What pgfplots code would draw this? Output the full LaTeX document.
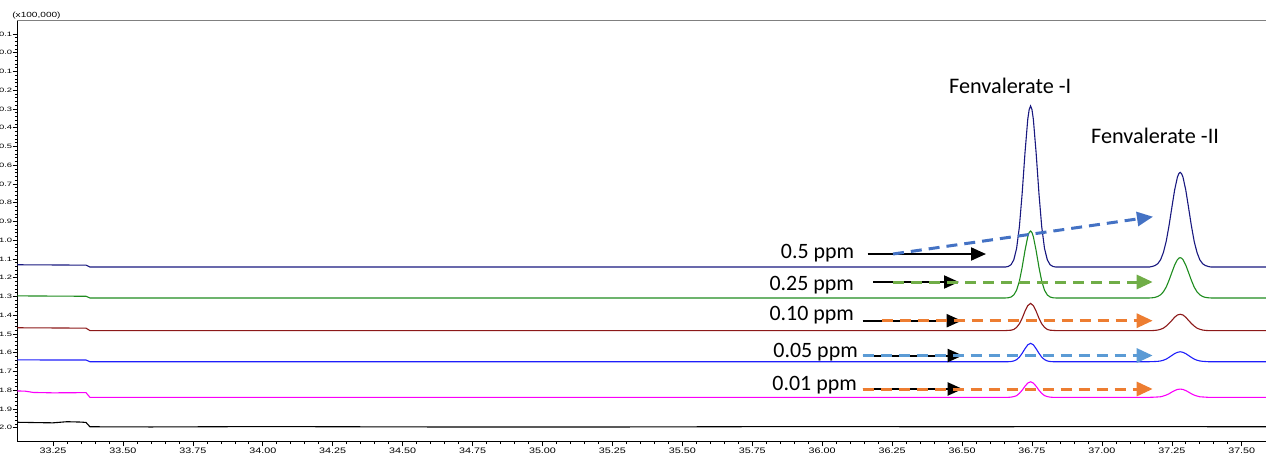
\documentclass[border=0pt]{standalone}
\usepackage{fontspec}
\setmainfont{Carlito}
\newfontfamily\xtfont[FakeStretch=1.35]{Liberation Sans}
\newfontfamily\ytfont[FakeStretch=1.5]{Liberation Sans}
\usepackage{pgfplots}
\pgfplotsset{compat=1.18}
\usetikzlibrary{arrows.meta}
\definecolor{cnavy}{RGB}{25,25,128}
\definecolor{cgreen}{RGB}{30,140,30}
\definecolor{cdred}{RGB}{140,25,25}
\definecolor{cblue}{RGB}{30,30,250}
\definecolor{cmag}{RGB}{250,0,250}
\definecolor{ablue}{HTML}{4472C4}
\definecolor{agreen}{HTML}{70AD47}
\definecolor{aorange}{HTML}{ED7D31}
\definecolor{alblue}{HTML}{5B9BD5}
\begin{document}
\begin{tikzpicture}
\begin{axis}[
  x=279.7bp, y=187.5bp, y dir=reverse,
  xmin=33.123, xmax=37.595, ymin=-0.172, ymax=2.0736,
  scale only axis,
  clip mode=individual,
  axis line style={black, line width=0.9bp},
  tick align=outside,
  xtick pos=bottom, ytick pos=left,
  xtick={33.25,33.5,33.75,34,34.25,34.5,34.75,35,35.25,35.5,35.75,36,36.25,36.5,36.75,37,37.25,37.5},
  xticklabels={33.25,33.50,33.75,34.00,34.25,34.50,34.75,35.00,35.25,35.50,35.75,36.00,36.25,36.50,36.75,37.00,37.25,37.50},
  minor x tick num=4,
  ytick={-0.1,0,0.1,0.2,0.3,0.4,0.5,0.6,0.7,0.8,0.9,1.0,1.1,1.2,1.3,1.4,1.5,1.6,1.7,1.8,1.9,2.0},
  yticklabels={-0.1,0.0,0.1,0.2,0.3,0.4,0.5,0.6,0.7,0.8,0.9,1.0,1.1,1.2,1.3,1.4,1.5,1.6,1.7,1.8,1.9,2.0},
  minor y tick num=4,
  major tick length=4.8bp, minor tick length=2.6bp,
  tick style={black, line width=0.6bp},
  xticklabel style={font=\xtfont\fontsize{8}{9}\selectfont, inner sep=1.5bp},
  yticklabel style={font=\ytfont\fontsize{6.3}{7}\selectfont, inner sep=0.3bp},
  every axis plot/.append style={line width=1.1bp},
]
% navy 0.5 ppm
\addplot[cnavy] coordinates {(33.123,1.131) (33.25,1.132) (33.368,1.133) (33.382,1.143) (36.655,1.143)
(36.665,1.140) (36.675,1.131) (36.685,1.105) (36.695,1.045) (36.705,0.929) (36.715,0.750) (36.725,0.536) (36.735,0.355) (36.74,0.303) (36.745,0.284) (36.75,0.303) (36.755,0.355) (36.765,0.536) (36.775,0.750) (36.785,0.929) (36.795,1.045) (36.805,1.105) (36.815,1.131) (36.825,1.140) (36.835,1.143)
(37.17,1.143) (37.18,1.140) (37.19,1.135) (37.20,1.125) (37.21,1.104) (37.22,1.065) (37.23,1.006) (37.24,0.923) (37.25,0.827) (37.26,0.733) (37.27,0.664) (37.275,0.645) (37.28,0.638) (37.285,0.645) (37.29,0.664) (37.30,0.733) (37.31,0.827) (37.32,0.923) (37.33,1.006) (37.34,1.065) (37.35,1.104) (37.36,1.125) (37.37,1.135) (37.38,1.140) (37.39,1.143) (37.6,1.143)};
% green 0.25 ppm
\addplot[cgreen] coordinates {(33.123,1.297) (33.25,1.298) (33.368,1.299) (33.382,1.308) (36.655,1.308)
(36.665,1.307) (36.675,1.303) (36.685,1.292) (36.695,1.267) (36.705,1.219) (36.715,1.144) (36.725,1.056) (36.735,0.981) (36.74,0.959) (36.745,0.951) (36.75,0.959) (36.755,0.981) (36.765,1.056) (36.775,1.144) (36.785,1.219) (36.795,1.267) (36.805,1.292) (36.815,1.303) (36.825,1.307) (36.835,1.308)
(37.17,1.308) (37.18,1.307) (37.19,1.305) (37.20,1.300) (37.21,1.291) (37.22,1.275) (37.23,1.250) (37.24,1.214) (37.25,1.173) (37.26,1.133) (37.27,1.104) (37.275,1.096) (37.28,1.093) (37.285,1.096) (37.29,1.104) (37.30,1.133) (37.31,1.173) (37.32,1.214) (37.33,1.250) (37.34,1.275) (37.35,1.291) (37.36,1.300) (37.37,1.305) (37.38,1.307) (37.39,1.308) (37.6,1.308)};
% dark red 0.10 ppm
\addplot[cdred] coordinates {(33.123,1.467) (33.25,1.468) (33.368,1.469) (33.382,1.482) (36.655,1.482)
(36.665,1.481) (36.675,1.480) (36.685,1.476) (36.695,1.465) (36.705,1.446) (36.715,1.416) (36.725,1.379) (36.735,1.349) (36.745,1.337) (36.755,1.349) (36.765,1.379) (36.775,1.416) (36.785,1.446) (36.795,1.465) (36.805,1.476) (36.815,1.480) (36.825,1.481) (36.835,1.482)
(37.17,1.482) (37.18,1.482) (37.19,1.481) (37.20,1.479) (37.21,1.475) (37.22,1.469) (37.23,1.458) (37.24,1.444) (37.25,1.428) (37.26,1.411) (37.27,1.399) (37.28,1.395) (37.29,1.399) (37.30,1.411) (37.31,1.428) (37.32,1.444) (37.33,1.458) (37.34,1.469) (37.35,1.475) (37.36,1.479) (37.37,1.481) (37.38,1.482) (37.6,1.482)};
% blue 0.05 ppm
\addplot[cblue] coordinates {(33.123,1.638) (33.25,1.639) (33.368,1.639) (33.382,1.648) (36.655,1.648)
(36.665,1.648) (36.675,1.647) (36.685,1.644) (36.695,1.637) (36.705,1.624) (36.715,1.603) (36.725,1.579) (36.735,1.558) (36.745,1.550) (36.755,1.558) (36.765,1.579) (36.775,1.603) (36.785,1.624) (36.795,1.637) (36.805,1.644) (36.815,1.647) (36.825,1.648)
(37.17,1.648) (37.19,1.647) (37.20,1.646) (37.21,1.644) (37.22,1.640) (37.23,1.634) (37.24,1.625) (37.25,1.615) (37.26,1.605) (37.27,1.598) (37.28,1.595) (37.29,1.598) (37.30,1.605) (37.31,1.615) (37.32,1.625) (37.33,1.634) (37.34,1.640) (37.35,1.644) (37.36,1.646) (37.37,1.647) (37.38,1.648) (37.6,1.648)};
% magenta 0.01 ppm
\addplot[cmag] coordinates {(33.123,1.804) (33.15,1.805) (33.18,1.812) (33.25,1.814) (33.368,1.813) (33.382,1.838) (36.655,1.838)
(36.665,1.838) (36.675,1.837) (36.685,1.834) (36.695,1.829) (36.705,1.817) (36.715,1.800) (36.725,1.779) (36.735,1.762) (36.745,1.755) (36.755,1.762) (36.765,1.779) (36.775,1.800) (36.785,1.817) (36.795,1.829) (36.805,1.834) (36.815,1.837) (36.825,1.838)
(37.17,1.838) (37.19,1.837) (37.20,1.836) (37.21,1.835) (37.22,1.831) (37.23,1.826) (37.24,1.819) (37.25,1.810) (37.26,1.802) (37.27,1.796) (37.28,1.794) (37.29,1.796) (37.30,1.802) (37.31,1.810) (37.32,1.819) (37.33,1.826) (37.34,1.831) (37.35,1.835) (37.36,1.836) (37.37,1.837) (37.38,1.838) (37.6,1.838)};
% black blank
\addplot[black] coordinates {(33.123,1.971) (33.2,1.973) (33.25,1.974) (33.3,1.968) (33.35,1.970) (33.368,1.972) (33.382,1.995) (33.6,1.996) (34.0,1.994) (34.6,1.996) (35.3,1.996) (35.9,1.994) (36.5,1.995) (37.0,1.994) (37.6,1.995)};

% top line gray
\draw[gray, line width=1.3bp] (axis cs:33.123,-0.172) -- (axis cs:37.595,-0.172);
\node[anchor=south west, inner sep=0pt, font=\xtfont\fontsize{7.5}{8}\selectfont] at (axis cs:33.104,-0.176) {(x100,000)};

% annotations
\node[anchor=base west, inner sep=0pt, font=\fontsize{22.3}{25}\selectfont] at (axis cs:36.4534,0.2165) {Fenvalerate -I};
\node[anchor=base west, inner sep=0pt, font=\fontsize{22.3}{25}\selectfont] at (axis cs:36.9611,0.4869) {Fenvalerate -II};

\node[anchor=base east, inner sep=0pt, font=\fontsize{22}{25}\selectfont] at (axis cs:36.1150,1.0965) {0.5 ppm};
\node[anchor=base east, inner sep=0pt, font=\fontsize{22}{25}\selectfont] at (axis cs:36.1140,1.2693) {0.25 ppm};
\node[anchor=base east, inner sep=0pt, font=\fontsize{22}{25}\selectfont] at (axis cs:36.1140,1.4293) {0.10 ppm};
\node[anchor=base east, inner sep=0pt, font=\fontsize{22}{25}\selectfont] at (axis cs:36.1280,1.6245) {0.05 ppm};
\node[anchor=base east, inner sep=0pt, font=\fontsize{22}{25}\selectfont] at (axis cs:36.1245,1.7990) {0.01 ppm};

\tikzset{blk/.style={black, line width=2bp, -{Triangle[length=15bp,width=13bp]}},
         dsh/.style={line width=3bp, dash pattern=on 11bp off 7bp, -{Triangle[length=16bp,width=14bp]}}}
\draw[blk] (axis cs:36.1628,1.0736) -- (axis cs:36.5857,1.0736);
\draw[dsh, ablue] (axis cs:36.2532,1.0736) -- (axis cs:37.1828,0.8747);
\draw[blk] (axis cs:36.1817,1.2229) -- (axis cs:36.4892,1.2229);
\draw[dsh, agreen] (axis cs:36.2532,1.2229) -- (axis cs:37.1817,1.2229);
\draw[blk] (axis cs:36.1449,1.4293) -- (axis cs:36.4989,1.4293);
\draw[dsh, aorange] (axis cs:36.2128,1.4293) -- (axis cs:37.1817,1.4293);
\draw[blk] (axis cs:36.1449,1.6150) -- (axis cs:36.5024,1.6150);
\draw[dsh, alblue] (axis cs:36.1449,1.6150) -- (axis cs:37.1817,1.6150);
\draw[blk] (axis cs:36.1449,1.7936) -- (axis cs:36.5024,1.7936);
\draw[dsh, aorange] (axis cs:36.1449,1.7936) -- (axis cs:37.1817,1.7936);

\coordinate (bbsw) at (axis cs:33.0605,2.1509);
\coordinate (bbne) at (axis cs:37.5868,-0.2811);
\end{axis}
\pgfresetboundingbox
\useasboundingbox (bbsw) rectangle (bbne);
\end{tikzpicture}
\end{document}
